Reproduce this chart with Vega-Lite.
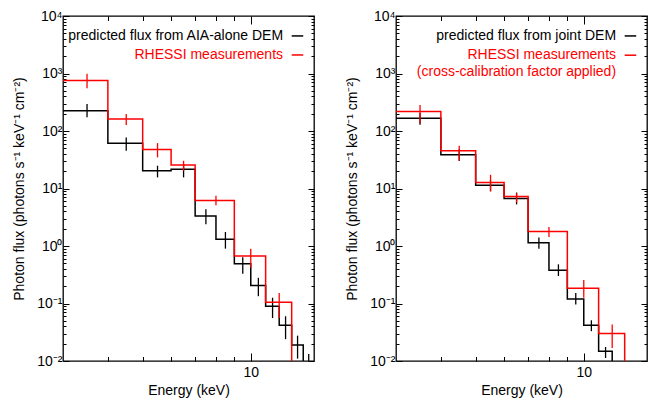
{
  "$schema": "https://vega.github.io/schema/vega-lite/v6.json",
  "background": "white",
  "padding": {"left": 12, "top": 8, "right": 15, "bottom": 10},
  "bounds": "flush",
  "spacing": 82,
  "datasets": {
    "left": [
      {"series": "model", "lo": 3, "hi": 4, "e": 3.5, "flux": 226, "errlo": 173, "errhi": 295},
      {"series": "model", "lo": 4, "hi": 5, "e": 4.5, "flux": 61, "errlo": 45.4, "errhi": 77},
      {"series": "model", "lo": 5, "hi": 6, "e": 5.5, "flux": 20.3, "errlo": 15.6, "errhi": 24.9},
      {"series": "model", "lo": 6, "hi": 7, "e": 6.5, "flux": 21.7, "errlo": 15.6, "errhi": 26.5},
      {"series": "model", "lo": 7, "hi": 8, "e": 7.5, "flux": 3.34, "errlo": 2.38, "errhi": 4.35},
      {"series": "model", "lo": 8, "hi": 9, "e": 8.5, "flux": 1.31, "errlo": 0.9, "errhi": 1.75},
      {"series": "model", "lo": 9, "hi": 10, "e": 9.5, "flux": 0.49, "errlo": 0.33, "errhi": 0.64},
      {"series": "model", "lo": 10, "hi": 11, "e": 10.5, "flux": 0.206, "errlo": 0.134, "errhi": 0.28},
      {"series": "model", "lo": 11, "hi": 12, "e": 11.5, "flux": 0.09, "errlo": 0.056, "errhi": 0.126},
      {"series": "model", "lo": 12, "hi": 13, "e": 12.5, "flux": 0.042, "errlo": 0.024, "errhi": 0.06},
      {"series": "model", "lo": 13, "hi": 14, "e": 13.5, "flux": 0.019, "errlo": 0.011, "errhi": 0.0276},
      {"series": "model", "lo": 14, "hi": 15, "e": 14.5, "flux": 0.008, "errlo": 0.004, "errhi": 0.0132},
      {"series": "rhessi", "lo": 3, "hi": 4, "e": 3.5, "flux": 755, "errlo": 555, "errhi": 986},
      {"series": "rhessi", "lo": 4, "hi": 5, "e": 4.5, "flux": 162, "errlo": 127, "errhi": 198},
      {"series": "rhessi", "lo": 5, "hi": 6, "e": 5.5, "flux": 47.9, "errlo": 34.8, "errhi": 61.7},
      {"series": "rhessi", "lo": 6, "hi": 7, "e": 6.5, "flux": 25.5, "errlo": 20.3, "errhi": 30.4},
      {"series": "rhessi", "lo": 7, "hi": 9, "e": 8, "flux": 6.18, "errlo": 5.12, "errhi": 7.45},
      {"series": "rhessi", "lo": 9, "hi": 11, "e": 10, "flux": 0.67, "errlo": 0.42, "errhi": 0.9},
      {"series": "rhessi", "lo": 11, "hi": 13, "e": 12, "flux": 0.105, "errlo": 0.056, "errhi": 0.153},
      {"series": "rhessi", "lo": 13, "hi": 15, "e": 14, "flux": 0.005, "errlo": null, "errhi": null}
    ],
    "right": [
      {"series": "model", "lo": 3, "hi": 4, "e": 3.5, "flux": 166, "errlo": 128, "errhi": 205},
      {"series": "model", "lo": 4, "hi": 5, "e": 4.5, "flux": 38.6, "errlo": 30, "errhi": 48},
      {"series": "model", "lo": 5, "hi": 6, "e": 5.5, "flux": 11.4, "errlo": 9, "errhi": 14},
      {"series": "model", "lo": 6, "hi": 7, "e": 6.5, "flux": 6.7, "errlo": 5.3, "errhi": 8.5},
      {"series": "model", "lo": 7, "hi": 8, "e": 7.5, "flux": 1.14, "errlo": 0.9, "errhi": 1.4},
      {"series": "model", "lo": 8, "hi": 9, "e": 8.5, "flux": 0.38, "errlo": 0.3, "errhi": 0.48},
      {"series": "model", "lo": 9, "hi": 10, "e": 9.5, "flux": 0.12, "errlo": 0.096, "errhi": 0.153},
      {"series": "model", "lo": 10, "hi": 11, "e": 10.5, "flux": 0.042, "errlo": 0.033, "errhi": 0.051},
      {"series": "model", "lo": 11, "hi": 12, "e": 11.5, "flux": 0.0148, "errlo": 0.0113, "errhi": 0.0175},
      {"series": "model", "lo": 12, "hi": 13, "e": 12.5, "flux": 0.005, "errlo": null, "errhi": null},
      {"series": "rhessi", "lo": 3, "hi": 4, "e": 3.5, "flux": 218, "errlo": 138, "errhi": 284},
      {"series": "rhessi", "lo": 4, "hi": 5, "e": 4.5, "flux": 45.4, "errlo": 30.4, "errhi": 55.5},
      {"series": "rhessi", "lo": 5, "hi": 6, "e": 5.5, "flux": 12.7, "errlo": 8.85, "errhi": 17.3},
      {"series": "rhessi", "lo": 6, "hi": 7, "e": 6.5, "flux": 7.25, "errlo": 5.7, "errhi": 8.3},
      {"series": "rhessi", "lo": 7, "hi": 9, "e": 8, "flux": 1.78, "errlo": 1.44, "errhi": 2.15},
      {"series": "rhessi", "lo": 9, "hi": 11, "e": 10, "flux": 0.185, "errlo": 0.126, "errhi": 0.255},
      {"series": "rhessi", "lo": 11, "hi": 13, "e": 12, "flux": 0.03, "errlo": 0.0168, "errhi": 0.043},
      {"series": "rhessi", "lo": 13, "hi": 15, "e": 14, "flux": 0.005, "errlo": null, "errhi": null}
    ],
    "legendLeft": [
      {"series": "model", "label": "predicted flux from AIA-alone DEM", "e": 12.3, "s1": 13, "s2": 14, "flux": 4500, "sample": true},
      {"series": "rhessi", "label": "RHESSI measurements", "e": 12.3, "s1": 13, "s2": 14, "flux": 2100, "sample": true}
    ],
    "legendRight": [
      {"series": "model", "label": "predicted flux from joint DEM", "e": 12.3, "s1": 13, "s2": 14, "flux": 4500, "sample": true},
      {"series": "rhessi", "label": "RHESSI measurements", "e": 12.3, "s1": 13, "s2": 14, "flux": 2080, "sample": true},
      {"series": "rhessi", "label": "(cross-calibration factor applied)", "e": 12.3, "s1": null, "s2": null, "flux": 1060, "sample": false}
    ]
  },
  "hconcat": [
    {
      "width": 251,
      "height": 345,
      "resolve": {"axis": {"x": "independent", "y": "independent"}},
      "layer": [
        {
          "data": {"name": "left"},
          "transform": [{"filter": "datum.series == 'model'"}, {"fold": ["lo", "hi"], "as": ["edge", "energy"]}],
          "mark": {"type": "line", "color": "#000000", "strokeWidth": 1.5, "clip": true},
          "encoding": {
            "x": {"field": "energy", "type": "quantitative", "scale": {"type": "log", "domain": [3, 15], "nice": false},
              "axis": {"orient": "bottom", "title": "Energy (keV)", "values": [4, 5, 6, 7, 8, 9, 10], "labelExpr": "datum.value == 10 ? '10' : ''", "labelOverlap": false, "tickSize": {"condition": {"test": "datum.value == 10", "value": -8}, "value": -4.5}, "labelPadding": 12, "titlePadding": 1, "labelFontSize": 14, "titleFontSize": 14}},
            "y": {"field": "flux", "type": "quantitative", "scale": {"type": "log", "domain": [0.01, 10000], "nice": false},
              "axis": {"orient": "left", "title": "Photon flux (photons s⁻¹ keV⁻¹ cm⁻²)", "values": [0.01,0.02,0.03,0.04,0.05,0.06,0.07,0.08,0.09,0.1,0.2,0.3,0.4,0.5,0.6,0.7,0.8,0.9,1,2,3,4,5,6,7,8,9,10,20,30,40,50,60,70,80,90,100,200,300,400,500,600,700,800,900,1000,2000,3000,4000,5000,6000,7000,8000,9000,10000],
                "labelExpr": "datum.value == 10000 ? '10⁴' : datum.value == 1000 ? '10³' : datum.value == 100 ? '10²' : datum.value == 10 ? '10¹' : datum.value == 1 ? '10⁰' : datum.value == 0.1 ? '10⁻¹' : datum.value == 0.01 ? '10⁻²' : ''",
                "labelOverlap": false, "tickSize": {"condition": {"test": "indexof([0.01,0.1,1,10,100,1000,10000], datum.value) >= 0", "value": -6}, "value": -3}, "labelPadding": 7, "titlePadding": 10, "labelFontSize": 14, "titleFontSize": 14}},
            "order": [{"field": "energy", "type": "quantitative"}, {"field": "edge", "type": "ordinal"}]
          }
        },
        {
          "data": {"name": "left"},
          "transform": [{"filter": "datum.series == 'model' && datum.errlo != null"}],
          "mark": {"type": "rule", "color": "#000000", "strokeWidth": 1.3, "clip": true},
          "encoding": {
            "x": {"field": "e", "type": "quantitative",
              "axis": {"orient": "top", "title": null, "values": [4, 5, 6, 7, 8, 9, 10], "labels": false, "tickSize": {"condition": {"test": "datum.value == 10", "value": -8}, "value": -4.5}}},
            "y": {"field": "errlo", "type": "quantitative",
              "axis": {"orient": "right", "title": null, "labels": false, "values": [0.01,0.02,0.03,0.04,0.05,0.06,0.07,0.08,0.09,0.1,0.2,0.3,0.4,0.5,0.6,0.7,0.8,0.9,1,2,3,4,5,6,7,8,9,10,20,30,40,50,60,70,80,90,100,200,300,400,500,600,700,800,900,1000,2000,3000,4000,5000,6000,7000,8000,9000,10000],
                "tickSize": {"condition": {"test": "indexof([0.01,0.1,1,10,100,1000,10000], datum.value) >= 0", "value": -6}, "value": -3}}},
            "y2": {"field": "errhi"}
          }
        },
        {
          "data": {"name": "left"},
          "transform": [{"filter": "datum.series == 'rhessi'"}, {"fold": ["lo", "hi"], "as": ["edge", "energy"]}],
          "mark": {"type": "line", "color": "#ff0000", "strokeWidth": 1.5, "clip": true},
          "encoding": {
            "x": {"field": "energy", "type": "quantitative", "axis": null},
            "y": {"field": "flux", "type": "quantitative", "axis": null},
            "order": [{"field": "energy", "type": "quantitative"}, {"field": "edge", "type": "ordinal"}]
          }
        },
        {
          "data": {"name": "left"},
          "transform": [{"filter": "datum.series == 'rhessi' && datum.errlo != null"}],
          "mark": {"type": "rule", "color": "#ff0000", "strokeWidth": 1.3, "clip": true},
          "encoding": {
            "x": {"field": "e", "type": "quantitative", "axis": null},
            "y": {"field": "errlo", "type": "quantitative", "axis": null},
            "y2": {"field": "errhi"}
          }
        },
        {
          "data": {"name": "legendLeft"},
          "mark": {"type": "text", "align": "right", "baseline": "middle", "fontSize": 14, "font": "Liberation Sans"},
          "encoding": {
            "x": {"field": "e", "type": "quantitative", "axis": null},
            "y": {"field": "flux", "type": "quantitative", "axis": null},
            "text": {"field": "label"},
            "color": {"field": "series", "type": "nominal", "scale": {"domain": ["model", "rhessi"], "range": ["#000000", "#ff0000"]}, "legend": null}
          }
        },
        {
          "data": {"name": "legendLeft"},
          "transform": [{"filter": "datum.sample"}],
          "mark": {"type": "rule", "strokeWidth": 1.5},
          "encoding": {
            "x": {"field": "s1", "type": "quantitative", "axis": null},
            "x2": {"field": "s2"},
            "y": {"field": "flux", "type": "quantitative", "axis": null},
            "color": {"field": "series", "type": "nominal", "scale": {"domain": ["model", "rhessi"], "range": ["#000000", "#ff0000"]}, "legend": null}
          }
        }
      ]
    },
    {
      "width": 251,
      "height": 345,
      "resolve": {"axis": {"x": "independent", "y": "independent"}},
      "layer": [
        {
          "data": {"name": "right"},
          "transform": [{"filter": "datum.series == 'model'"}, {"fold": ["lo", "hi"], "as": ["edge", "energy"]}],
          "mark": {"type": "line", "color": "#000000", "strokeWidth": 1.5, "clip": true},
          "encoding": {
            "x": {"field": "energy", "type": "quantitative", "scale": {"type": "log", "domain": [3, 15], "nice": false},
              "axis": {"orient": "bottom", "title": "Energy (keV)", "values": [4, 5, 6, 7, 8, 9, 10], "labelExpr": "datum.value == 10 ? '10' : ''", "labelOverlap": false, "tickSize": {"condition": {"test": "datum.value == 10", "value": -8}, "value": -4.5}, "labelPadding": 12, "titlePadding": 1, "labelFontSize": 14, "titleFontSize": 14}},
            "y": {"field": "flux", "type": "quantitative", "scale": {"type": "log", "domain": [0.01, 10000], "nice": false},
              "axis": {"orient": "left", "title": "Photon flux (photons s⁻¹ keV⁻¹ cm⁻²)", "values": [0.01,0.02,0.03,0.04,0.05,0.06,0.07,0.08,0.09,0.1,0.2,0.3,0.4,0.5,0.6,0.7,0.8,0.9,1,2,3,4,5,6,7,8,9,10,20,30,40,50,60,70,80,90,100,200,300,400,500,600,700,800,900,1000,2000,3000,4000,5000,6000,7000,8000,9000,10000],
                "labelExpr": "datum.value == 10000 ? '10⁴' : datum.value == 1000 ? '10³' : datum.value == 100 ? '10²' : datum.value == 10 ? '10¹' : datum.value == 1 ? '10⁰' : datum.value == 0.1 ? '10⁻¹' : datum.value == 0.01 ? '10⁻²' : ''",
                "labelOverlap": false, "tickSize": {"condition": {"test": "indexof([0.01,0.1,1,10,100,1000,10000], datum.value) >= 0", "value": -6}, "value": -3}, "labelPadding": 7, "titlePadding": 10, "labelFontSize": 14, "titleFontSize": 14}},
            "order": [{"field": "energy", "type": "quantitative"}, {"field": "edge", "type": "ordinal"}]
          }
        },
        {
          "data": {"name": "right"},
          "transform": [{"filter": "datum.series == 'model' && datum.errlo != null"}],
          "mark": {"type": "rule", "color": "#000000", "strokeWidth": 1.3, "clip": true},
          "encoding": {
            "x": {"field": "e", "type": "quantitative",
              "axis": {"orient": "top", "title": null, "values": [4, 5, 6, 7, 8, 9, 10], "labels": false, "tickSize": {"condition": {"test": "datum.value == 10", "value": -8}, "value": -4.5}}},
            "y": {"field": "errlo", "type": "quantitative",
              "axis": {"orient": "right", "title": null, "labels": false, "values": [0.01,0.02,0.03,0.04,0.05,0.06,0.07,0.08,0.09,0.1,0.2,0.3,0.4,0.5,0.6,0.7,0.8,0.9,1,2,3,4,5,6,7,8,9,10,20,30,40,50,60,70,80,90,100,200,300,400,500,600,700,800,900,1000,2000,3000,4000,5000,6000,7000,8000,9000,10000],
                "tickSize": {"condition": {"test": "indexof([0.01,0.1,1,10,100,1000,10000], datum.value) >= 0", "value": -6}, "value": -3}}},
            "y2": {"field": "errhi"}
          }
        },
        {
          "data": {"name": "right"},
          "transform": [{"filter": "datum.series == 'rhessi'"}, {"fold": ["lo", "hi"], "as": ["edge", "energy"]}],
          "mark": {"type": "line", "color": "#ff0000", "strokeWidth": 1.5, "clip": true},
          "encoding": {
            "x": {"field": "energy", "type": "quantitative", "axis": null},
            "y": {"field": "flux", "type": "quantitative", "axis": null},
            "order": [{"field": "energy", "type": "quantitative"}, {"field": "edge", "type": "ordinal"}]
          }
        },
        {
          "data": {"name": "right"},
          "transform": [{"filter": "datum.series == 'rhessi' && datum.errlo != null"}],
          "mark": {"type": "rule", "color": "#ff0000", "strokeWidth": 1.3, "clip": true},
          "encoding": {
            "x": {"field": "e", "type": "quantitative", "axis": null},
            "y": {"field": "errlo", "type": "quantitative", "axis": null},
            "y2": {"field": "errhi"}
          }
        },
        {
          "data": {"name": "legendRight"},
          "mark": {"type": "text", "align": "right", "baseline": "middle", "fontSize": 14, "font": "Liberation Sans"},
          "encoding": {
            "x": {"field": "e", "type": "quantitative", "axis": null},
            "y": {"field": "flux", "type": "quantitative", "axis": null},
            "text": {"field": "label"},
            "color": {"field": "series", "type": "nominal", "scale": {"domain": ["model", "rhessi"], "range": ["#000000", "#ff0000"]}, "legend": null}
          }
        },
        {
          "data": {"name": "legendRight"},
          "transform": [{"filter": "datum.sample"}],
          "mark": {"type": "rule", "strokeWidth": 1.5},
          "encoding": {
            "x": {"field": "s1", "type": "quantitative", "axis": null},
            "x2": {"field": "s2"},
            "y": {"field": "flux", "type": "quantitative", "axis": null},
            "color": {"field": "series", "type": "nominal", "scale": {"domain": ["model", "rhessi"], "range": ["#000000", "#ff0000"]}, "legend": null}
          }
        }
      ]
    }
  ],
  "config": {
    "font": "Liberation Sans",
    "view": {"stroke": "#000000", "strokeWidth": 1.3},
    "axis": {
      "domain": false,
      "grid": false,
      "labelFont": "Liberation Sans",
      "labelFontSize": 14,
      "labelColor": "#000000",
      "titleFont": "Liberation Sans",
      "titleFontSize": 14,
      "titleFontWeight": "normal",
      "titleColor": "#000000",
      "tickColor": "#000000",
      "tickWidth": 1
    }
  }
}
